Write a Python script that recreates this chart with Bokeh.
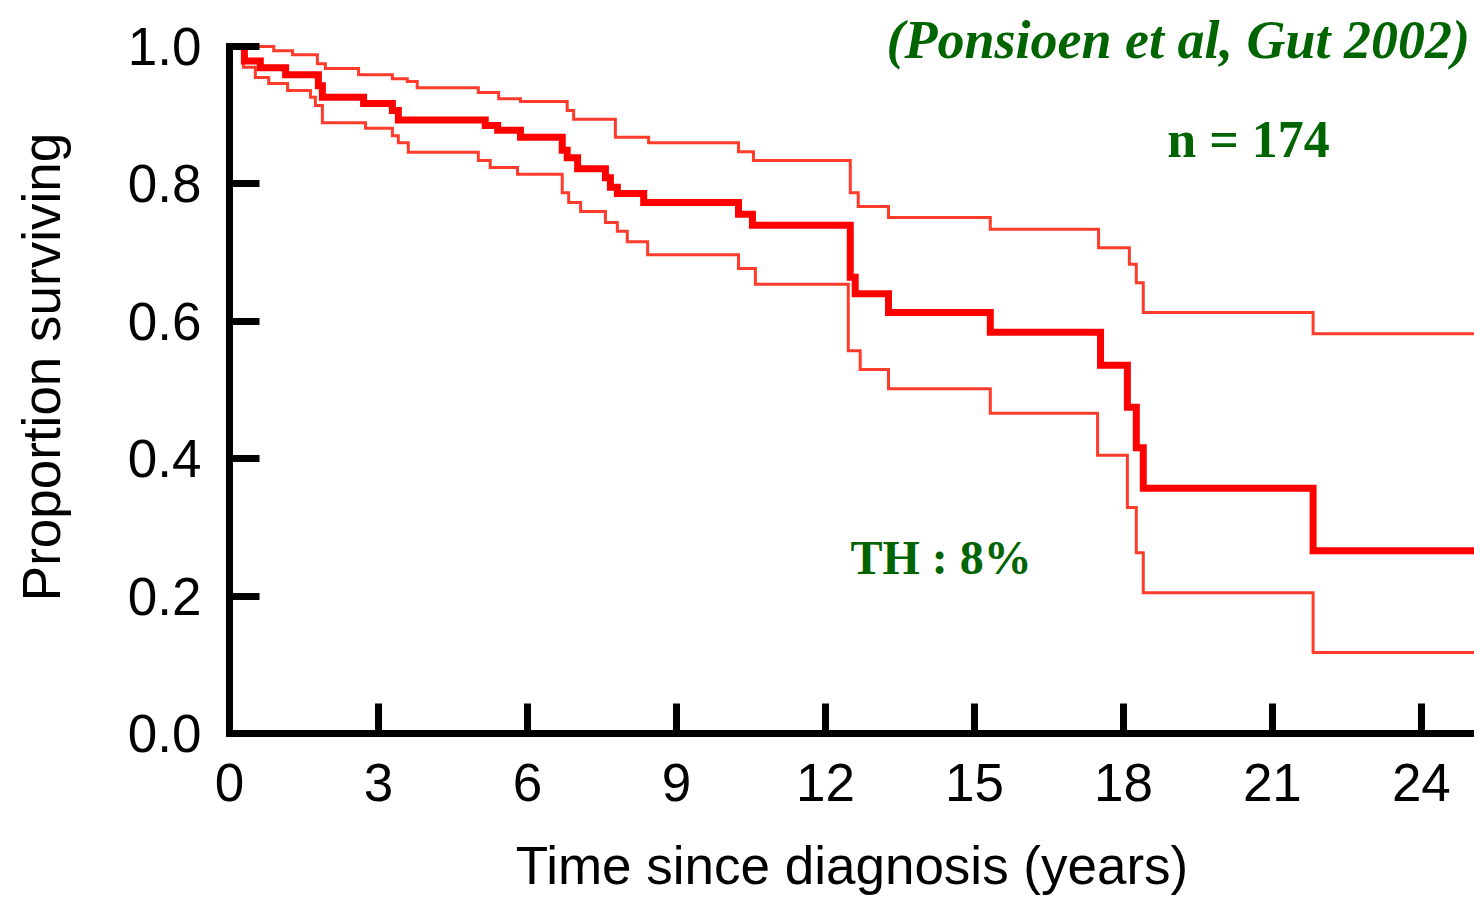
from bokeh.plotting import figure
from bokeh.models import Range1d, FixedTicker, Label, PrintfTickFormatter
from bokeh.embed import file_html
from bokeh.resources import INLINE

# ---- data ----
km_times = [0.30, 0.62, 1.13, 1.79, 1.87, 2.70, 3.28, 3.40, 5.15, 5.40,
            5.86, 6.70, 6.80, 7.01, 7.57, 7.67, 7.81, 8.34, 10.25, 10.53,
            12.50, 12.60, 13.27, 15.32, 17.54, 18.08, 18.26, 18.40, 21.82]
km_surv = [0.979, 0.969, 0.959, 0.943, 0.926, 0.917, 0.907, 0.893, 0.885, 0.878,
           0.868, 0.849, 0.838, 0.822, 0.809, 0.795, 0.786, 0.773, 0.756, 0.740,
           0.664, 0.640, 0.613, 0.584, 0.536, 0.475, 0.416, 0.357, 0.266]

upper_times = [0.89, 1.27, 1.77, 1.93, 2.60, 3.28, 3.58, 3.78, 5.01, 5.42,
               5.86, 6.80, 6.93, 7.77, 8.44, 10.25, 10.55, 12.50, 12.66, 13.27,
               15.32, 17.50, 18.12, 18.26, 18.40, 21.82]
upper_surv = [0.994, 0.988, 0.975, 0.968, 0.959, 0.953, 0.949, 0.940, 0.933, 0.924,
              0.920, 0.907, 0.894, 0.868, 0.860, 0.847, 0.834, 0.787, 0.767, 0.751,
              0.734, 0.707, 0.683, 0.656, 0.613, 0.582]

lower_times = [0.28, 0.52, 0.79, 1.17, 1.63, 1.73, 1.87, 2.74, 3.28, 3.40,
               3.60, 5.01, 5.25, 5.80, 6.70, 6.83, 7.07, 7.57, 7.81, 8.01,
               8.42, 10.25, 10.59, 12.46, 12.70, 13.27, 15.32, 17.48, 18.08, 18.26,
               18.40, 21.82]
lower_surv = [0.970, 0.955, 0.946, 0.936, 0.926, 0.914, 0.889, 0.881, 0.870, 0.860,
              0.846, 0.834, 0.824, 0.814, 0.787, 0.773, 0.760, 0.744, 0.731, 0.716,
              0.697, 0.677, 0.654, 0.557, 0.530, 0.502, 0.466, 0.405, 0.329, 0.263,
              0.205, 0.118]

x_ticks = [0, 3, 6, 9, 12, 15, 18, 21, 24]
y_ticks = [0.0, 0.2, 0.4, 0.6, 0.8, 1.0]
t_end = 26.0

x_label = "Time since diagnosis (years)"
y_label = "Proportion surviving"
citation = "(Ponsioen et al, Gut 2002)"
n_text = "n = 174"
th_text = "TH : 8%"


def step_xy(times, surv, end):
    xs, ys = [0.0], [1.0]
    prev = 1.0
    for t, s in zip(times, surv):
        xs += [t, t]
        ys += [prev, s]
        prev = s
    xs.append(end)
    ys.append(prev)
    return xs, ys


p = figure(width=1474, height=907, output_backend="svg", toolbar_location=None,
           x_range=Range1d(0, 25.07), y_range=Range1d(0, 1.067),
           min_border_left=229, min_border_right=0, min_border_top=0,
           min_border_bottom=174)
p.outline_line_color = None
p.grid.visible = False
p.background_fill_color = "white"
p.border_fill_color = "white"

ci_color = "#ff3b2b"
for tt, ss in ((upper_times, upper_surv), (lower_times, lower_surv)):
    xs, ys = step_xy(tt, ss, t_end)
    p.line(xs, ys, line_color=ci_color, line_width=3, line_join="miter")

xs, ys = step_xy(km_times, km_surv, t_end)
p.line(xs, ys, line_color="#ff0000", line_width=7, line_join="miter")

for ax in (p.xaxis[0], p.yaxis[0]):
    ax.axis_line_width = 7
    ax.axis_line_color = "black"
    ax.axis_line_cap = "square"
    ax.major_tick_line_width = 7
    ax.major_tick_line_color = "black"
    ax.major_tick_in = 30
    ax.major_tick_out = 0
    ax.minor_tick_line_color = None
    ax.major_label_text_font = "Liberation Sans"
    ax.major_label_text_font_size = "53px"
    ax.major_label_text_color = "black"
    ax.axis_label_text_font = "Liberation Sans"
    ax.axis_label_text_font_size = "53px"
    ax.axis_label_text_font_style = "normal"
    ax.axis_label_text_color = "black"

p.xaxis.ticker = FixedTicker(ticks=x_ticks)
p.yaxis.ticker = FixedTicker(ticks=y_ticks)
p.yaxis.formatter = PrintfTickFormatter(format="%.1f")
p.yaxis.bounds = (0, 1)
p.xaxis.major_label_standoff = 30
p.yaxis.major_label_standoff = 28
p.xaxis.axis_label = x_label
p.yaxis.axis_label = y_label
p.xaxis.axis_label_standoff = 32
p.yaxis.axis_label_standoff = 54

green = "#006400"
p.add_layout(Label(x=24.98, y=1.0095, text=citation, text_align="right",
                   text_baseline="alphabetic", text_font="Liberation Serif",
                   text_font_style="bold italic", text_font_size="54px",
                   text_color=green))
p.add_layout(Label(x=20.52, y=0.865, text=n_text, text_align="center",
                   text_baseline="alphabetic", text_font="Liberation Serif",
                   text_font_style="bold", text_font_size="52px",
                   text_color=green))
p.add_layout(Label(x=14.33, y=0.2555, text=th_text, text_align="center",
                   text_baseline="alphabetic", text_font="Liberation Serif",
                   text_font_style="bold", text_font_size="48px",
                   text_color=green))

open("out.html", "w").write(file_html(p, INLINE))
